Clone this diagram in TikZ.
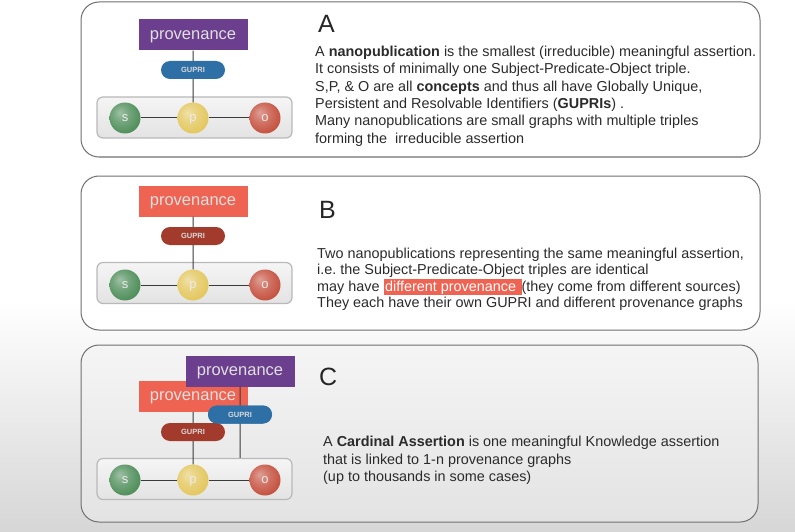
\documentclass[tikz,border=0pt]{standalone}
\usepackage{fontspec}
\setmainfont{Liberation Sans}
\usetikzlibrary{shapes.misc}
\definecolor{provpurple}{HTML}{6B3E8E}
\definecolor{provred}{HTML}{EF6352}
\definecolor{gupriblue}{HTML}{2E70A6}
\definecolor{gupridred}{HTML}{A23B2C}
\definecolor{sgreen}{HTML}{4F8E5A}
\definecolor{pyellow}{HTML}{E3C75E}
\definecolor{ored}{HTML}{C5513F}
\definecolor{txt}{HTML}{2B2B2B}
\definecolor{panelline}{HTML}{707070}
\definecolor{linkline}{HTML}{3A3A3A}
\makeatletter
\pgfdeclareradialshading[tikz@ball]{softball}{\pgfpoint{-9bp}{9bp}}{%
  color(0bp)=(tikz@ball!55!white);
  color(14bp)=(tikz@ball!80!white);
  color(30bp)=(tikz@ball);
  color(45bp)=(tikz@ball!88!black);
  color(60bp)=(tikz@ball!75!black)}
\makeatother
\frenchspacing
\tikzset{
  panel/.style={draw=panelline, line width=1pt, rounded corners=18pt},
  provbox/.style={minimum width=109pt, minimum height=31pt, inner sep=0pt,
    text height=8.6pt, text depth=0pt,
    font=\fontsize{16.5}{16.5}\selectfont, text=white!88!black},
  gupri/.style={rounded rectangle, minimum width=64pt, minimum height=18pt, inner sep=0pt,
    text height=5.4pt, text depth=0pt,
    font=\fontsize{7.5}{7.5}\selectfont\bfseries, text=white!85!black},
  container/.style={rounded corners=6pt, draw=gray!55, line width=1.2pt,
    top color=gray!8, bottom color=gray!22, minimum width=195pt, minimum height=41pt, inner sep=0pt},
  spo/.style={circle, minimum size=31pt, inner sep=0pt, text height=6.8pt, text depth=0pt,
    font=\fontsize{13}{13}\selectfont, text=white!92!black},
  green ball/.style={spo, ball color=sgreen, shading=softball},
  yellow ball/.style={spo, ball color=pyellow, shading=softball},
  red ball/.style={spo, ball color=ored, shading=softball},
  link/.style={draw=linkline, line width=1pt},
  body/.style={anchor=base west, inner sep=0pt, text=txt, font=\fontsize{14.4}{17}\selectfont},
  letter/.style={anchor=base west, inner sep=0pt, text=black!85, font=\fontsize{25}{25}\selectfont}
}
\begin{document}
\begin{tikzpicture}[x=1pt,y=-1pt]
\useasboundingbox (0,0) rectangle (795,532);
\fill[white] (0,0) rectangle (795,532);
\shade[top color=white, bottom color=black!16] (0,300) rectangle (795,532);

% ---------- Panel A ----------
\draw[panel, fill=white] (81,2) rectangle (760,157);
\node[provbox, fill=provpurple] (provA) at (193,35) {provenance};
\node[gupri, fill=gupriblue] (gA) at (193,70) {GUPRI};
\node[container] (cA) at (194.5,117.5) {};
\node[green ball] (sA) at (125,118) {s};
\node[yellow ball] (pA) at (193,118) {p};
\node[red ball] (oA) at (265,118) {o};
\draw[link] (sA) -- (pA) -- (oA);
\draw[link] (provA) -- (gA) -- (pA);
\node[letter] (LA) at (318,33) {A};
\node[body] (a1) at (315,56.5) {A \textbf{nanopublication} is the smallest (irreducible) meaningful assertion.};
\node[body] (a2) at (315,73.8) {It consists of minimally one Subject-Predicate-Object triple.};
\node[body] (a3) at (315,91.1) {S,P, \& O are all \textbf{concepts} and thus all have Globally Unique,};
\node[body] (a4) at (315,108.4) {Persistent and Resolvable Identifiers (\textbf{GUPRIs}) .};
\node[body] (a5) at (315,125.7) {Many nanopublications are small graphs with multiple triples};
\node[body] (a6) at (315,143) {forming the\ \ irreducible assertion};

% ---------- Panel B ----------
\draw[panel, fill=white] (81,176) rectangle (760,330);
\node[provbox, fill=provred] (provB) at (193,201) {provenance};
\node[gupri, fill=gupridred] (gB) at (193,236) {GUPRI};
\node[container] (cB) at (194.5,283) {};
\node[green ball] (sB) at (125,285) {s};
\node[yellow ball] (pB) at (193,285) {p};
\node[red ball] (oB) at (265,285) {o};
\draw[link] (sB) -- (pB) -- (oB);
\draw[link] (provB) -- (gB) -- (pB);
\node[letter] (LB) at (319,218) {B};
\node[body] (b1) at (317,258) {Two nanopublications representing the same meaningful assertion,};
\node[body] (b2) at (317,274.5) {i.e. the Subject-Predicate-Object triples are identical};
\node[body] (b3) at (317,291) {may have {\fboxsep=1.5pt\colorbox{provred}{\textcolor{white}{different provenance\ }}}(they come from different sources)};
\node[body] (b4) at (317,307.5) {They each have their own GUPRI and different provenance graphs};

% ---------- Panel C ----------
\draw[panel, top color=black!4, bottom color=black!11] (81,345) rectangle (758,522);
\node[provbox, fill=provred] (provC1) at (193,396.5) {provenance};
\node[provbox, fill=provpurple] (provC2) at (240,371) {provenance};
\node[gupri, fill=gupriblue] (gC2) at (240,414.5) {GUPRI};
\node[gupri, fill=gupridred] (gC1) at (193,432) {GUPRI};
\node[container] (cC) at (194.5,479) {};
\node[green ball] (sC) at (125,480) {s};
\node[yellow ball] (pC) at (193,480) {p};
\node[red ball] (oC) at (265,480) {o};
\coordinate (endC) at (cC.north -| gC2);
\draw[link] (sC) -- (pC) -- (oC);
\draw[link] (provC1) -- (gC1) -- (pC);
\draw[link] (provC2) -- (gC2);
\node[gupri, fill=gupriblue] at (gC2) {GUPRI};
\draw[link] (gC2) -- (endC);
\node[letter] (LC) at (319,385) {C};
\node[body] (c1) at (323,446.5) {A \textbf{Cardinal Assertion} is one meaningful Knowledge assertion};
\node[body] (c2) at (323,464) {that is linked to 1-n provenance graphs};
\node[body] (c3) at (323,481.5) {(up to thousands in some cases)};
\end{tikzpicture}
\end{document}
